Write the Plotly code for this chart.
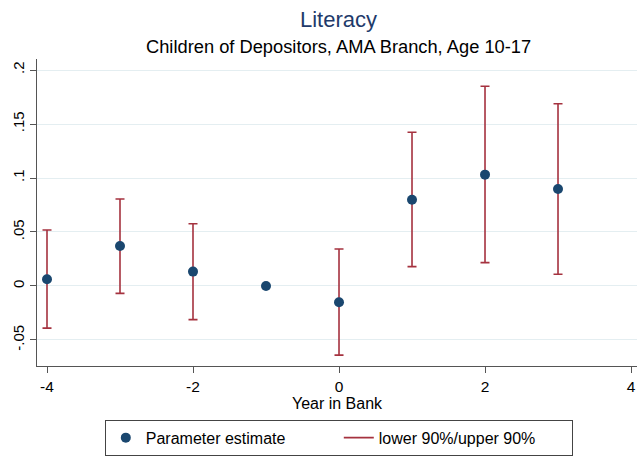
import plotly.graph_objects as go

# Event-study estimates: literacy, children of depositors (AMA branch, age 10-17)
years = [-4, -3, -2, -1, 0, 1, 2, 3]
estimate = [0.0063, 0.0370, 0.0133, 0.0, -0.0151, 0.0799, 0.1031, 0.0898]
lower90 = [-0.0390, -0.0068, -0.0312, None, -0.0640, 0.0179, 0.0216, 0.0108]
upper90 = [0.0519, 0.0805, 0.0577, None, 0.0343, 0.1423, 0.1850, 0.1688]

y_tick_vals = [-0.05, 0, 0.05, 0.1, 0.15, 0.2]
y_tick_text = ["-.05", "0", ".05", ".1", ".15", ".2"]
x_tick_vals = [-4, -2, 0, 2, 4]
x_tick_text = ["-4", "-2", "0", "2", "4"]

title_text = "Literacy"
subtitle_text = "Children of Depositors, AMA Branch, Age 10-17"

NAVY = "#1a476f"
MAROON = "#a5323f"
FONT = "Liberation Sans, Arial, sans-serif"

has_ci = [u is not None for u in upper90]
ci_x = [x for x, h in zip(years, has_ci) if h]
ci_y = [e for e, h in zip(estimate, has_ci) if h]
ci_plus = [u - e for u, e, h in zip(upper90, estimate, has_ci) if h]
ci_minus = [e - l for l, e, h in zip(lower90, estimate, has_ci) if h]

fig = go.Figure()

# Confidence intervals (error bars on invisible points)
fig.add_trace(go.Scatter(
    x=ci_x, y=ci_y, mode="markers",
    marker=dict(size=1, color="rgba(0,0,0,0)"),
    error_y=dict(type="data", symmetric=False, array=ci_plus, arrayminus=ci_minus,
                 color=MAROON, thickness=1.6, width=4.5),
    showlegend=False, hoverinfo="skip",
))

# Point estimates
fig.add_trace(go.Scatter(
    x=years, y=estimate, mode="markers",
    marker=dict(size=10, color=NAVY),
    name="Parameter estimate",
))

# Legend entry for the interval
fig.add_trace(go.Scatter(
    x=[None], y=[None], mode="lines",
    line=dict(color=MAROON, width=1.6),
    name="lower 90%/upper 90%",
))

fig.update_layout(
    width=637, height=456,
    margin=dict(l=37, r=0, t=59, b=90),
    paper_bgcolor="white", plot_bgcolor="white",
    font=dict(family=FONT, size=15, color="black"),
    showlegend=True,
    legend=dict(
        orientation="h", x=0.503, xanchor="center", y=-0.175, yanchor="top",
        bordercolor="#444", borderwidth=1, bgcolor="white",
        font=dict(size=16), entrywidth=188, entrywidthmode="pixels",
    ),
    annotations=[
        dict(text=title_text, xref="paper", yref="paper", x=0.502, y=1.0,
             yshift=40, xanchor="center", yanchor="middle", showarrow=False,
             font=dict(family=FONT, size=22, color="#1e3a6a")),
        dict(text=subtitle_text, xref="paper", yref="paper", x=0.502, y=1.0,
             yshift=13, xanchor="center", yanchor="middle", showarrow=False,
             font=dict(family=FONT, size=18.3, color="black")),
    ],
)

fig.update_xaxes(
    range=[-4.137, 4.082], tickvals=x_tick_vals, ticktext=x_tick_text,
    showgrid=False, zeroline=False,
    showline=True, linecolor="#555", linewidth=1.3,
    ticks="outside", ticklen=6, tickcolor="#555",
    tickfont=dict(size=15.5),
    title=dict(text="Year in Bank", font=dict(size=16), standoff=4),
)
fig.update_yaxes(
    range=[-0.0741, 0.2102], tickvals=y_tick_vals, ticktext=y_tick_text,
    tickangle=-90,
    showgrid=True, gridcolor="#e4eef1", gridwidth=1.2,
    zeroline=False,
    showline=True, linecolor="#555", linewidth=1.3,
    ticks="outside", ticklen=6, tickcolor="#555",
    tickfont=dict(size=15),
)

fig.write_html("out.html")
